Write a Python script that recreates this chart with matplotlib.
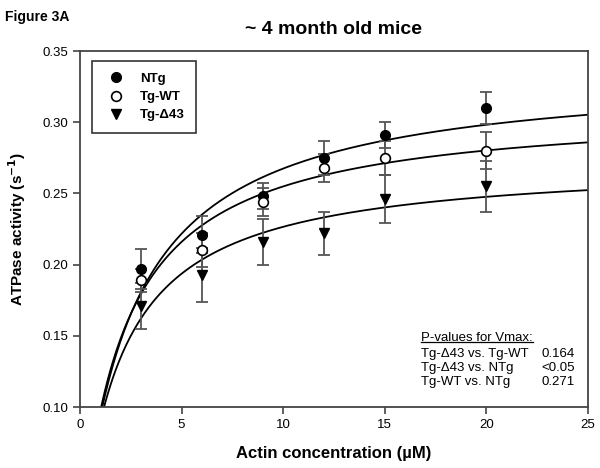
import numpy as np
import matplotlib
matplotlib.use("Agg")
import matplotlib.pyplot as plt
from matplotlib.lines import Line2D

plt.rcParams['font.family'] = ['Liberation Sans', 'DejaVu Sans']

# actin concentration (uM)
actin = [3, 6, 9, 12, 15, 20]

ntg = [0.197, 0.221, 0.248, 0.275, 0.291, 0.310]
ntg_err = [0.014, 0.013, 0.009, 0.012, 0.009, 0.011]
wt = [0.189, 0.210, 0.244, 0.268, 0.275, 0.280]
wt_err = [0.008, 0.012, 0.010, 0.010, 0.012, 0.013]
d43 = [0.171, 0.193, 0.216, 0.222, 0.246, 0.255]
d43_err = [0.016, 0.019, 0.016, 0.015, 0.017, 0.018]

# Michaelis-Menten fit parameters (Vmax, Km)
fit_ntg = (0.337, 2.6)
fit_wt = (0.311, 2.2)
fit_d43 = (0.273, 2.05)

pval_rows = ["Tg-\u039443 vs. Tg-WT", "Tg-\u039443 vs. NTg", "Tg-WT vs. NTg"]
pval_vals = ["0.164", "<0.05", "0.271"]

fig = plt.figure(figsize=(6, 4.68), dpi=100)
ax = fig.add_axes([0.1333, 0.1303, 0.8467, 0.7607])

xs = np.linspace(0.5, 25, 400)
for vmax, km in (fit_ntg, fit_wt, fit_d43):
    ax.plot(xs, vmax * xs / (km + xs), color='black', lw=1.3, zorder=2)

ecol = '#555555'
for y, e in ((ntg, ntg_err), (wt, wt_err), (d43, d43_err)):
    ax.errorbar(actin, y, yerr=e, fmt='none', ecolor=ecol, elinewidth=1.3,
                capsize=4, capthick=1.3, zorder=3)

ax.plot(actin, ntg, 'o', ms=7, mfc='black', mec='black', zorder=4, label='NTg')
ax.plot(actin, wt, 'o', ms=7, mfc='white', mec='black', mew=1.2, zorder=4, label='Tg-WT')
ax.plot(actin, d43, 'v', ms=7.5, mfc='black', mec='black', zorder=4, label='Tg-\u039443')

ax.set_xlim(0, 25)
ax.set_ylim(0.10, 0.35)
ax.set_xticks([0, 5, 10, 15, 20, 25])
ax.set_yticks([0.10, 0.15, 0.20, 0.25, 0.30, 0.35])
ax.set_yticklabels(['%.2f' % v for v in [0.10, 0.15, 0.20, 0.25, 0.30, 0.35]])
ax.tick_params(direction='out', length=5, width=1.2, color='#444444',
               labelsize=9.5, top=False, right=False)
for s in ax.spines.values():
    s.set_color('#444444')
    s.set_linewidth(1.3)

ax.set_xlabel('Actin concentration (\u00b5M)', fontsize=12, fontweight='bold', labelpad=11)
ax.set_ylabel('ATPase activity (s$^{\\mathbf{-1}}$)', fontsize=11, fontweight='bold', labelpad=10)
ax.set_title('~ 4 month old mice', fontsize=14, fontweight='bold', pad=12)
fig.text(0.008, 0.978, 'Figure 3A', fontsize=10, fontweight='bold', va='top')

leg = ax.legend(loc='upper left', bbox_to_anchor=(0.024, 0.972), borderaxespad=0,
                frameon=True, fancybox=False, edgecolor='black',
                prop={'weight': 'bold', 'size': 9.5},
                handletextpad=0.9, borderpad=0.9, labelspacing=0.45, handlelength=1.8)
leg.get_frame().set_linewidth(1.2)

# p-value table
tx0, tx1 = 0.672, 0.974
ty = 0.186
head = ax.text(tx0, ty, 'P-values for Vmax:', transform=ax.transAxes, fontsize=9.5, va='baseline')
for i, (r, v) in enumerate(zip(pval_rows, pval_vals)):
    yy = ty - 0.0385 * (i + 1) - 0.008
    ax.text(tx0, yy, r, transform=ax.transAxes, fontsize=9.5, va='baseline')
    ax.text(tx1, yy, v, transform=ax.transAxes, fontsize=9.5, va='baseline', ha='right')

fig.canvas.draw()
bb = head.get_window_extent().transformed(fig.transFigure.inverted())
fig.add_artist(Line2D([bb.x0, bb.x1], [bb.y0 + 0.003, bb.y0 + 0.003],
                      transform=fig.transFigure, color='black', lw=0.9))

fig.savefig('out.png', dpi=100)
